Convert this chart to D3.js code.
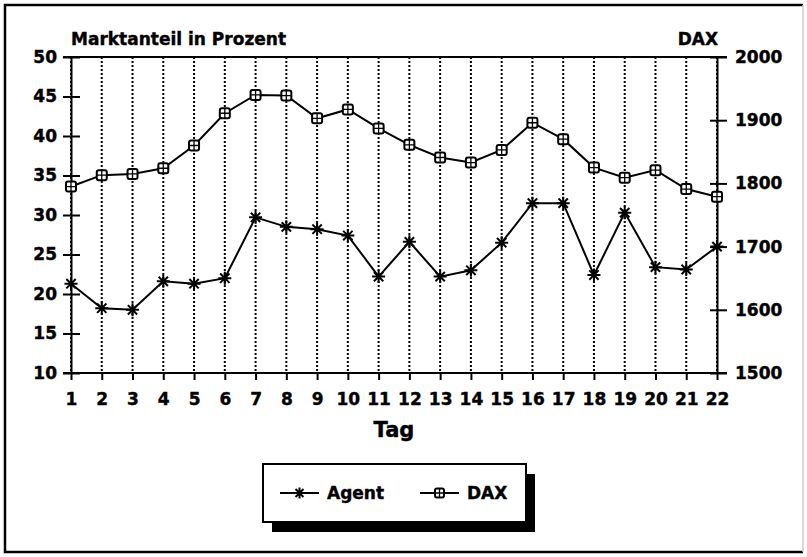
<!DOCTYPE html>
<html>
<head>
<meta charset="utf-8">
<script src="https://cdn.jsdelivr.net/npm/d3@7"></script>
<style>
  body { margin: 0; background: #fff; }
  svg { display: block; }
  text { font-family: "DejaVu Sans", Verdana, sans-serif; font-weight: bold; fill: #000; stroke: #000; stroke-width: 0.4px; }
</style>
</head>
<body>
<svg width="807" height="557"></svg>
<script>
(function () {
    'use strict';

    // Daten
    const days = d3.range(1, 23);
    const agent = [21.3, 18.2, 18.0, 21.6, 21.3, 22.0, 29.7, 28.5, 28.2, 27.4, 22.2,
                   26.6, 22.2, 23.0, 26.5, 31.5, 31.5, 22.4, 30.3, 23.4, 23.1, 26.0];
    const dax = [1795, 1813, 1815, 1824, 1860, 1911, 1940, 1939, 1903, 1917, 1887,
                 1861, 1841, 1833, 1853, 1896, 1870, 1825, 1809, 1821, 1791, 1779];
    const leftTicks = [10, 15, 20, 25, 30, 35, 40, 45, 50];
    const rightTicks = [1500, 1600, 1700, 1800, 1900, 2000];

    const svg = d3.select('svg');
    const margin = {top: 57, right: 90, bottom: 184, left: 71};
    const width = 807 - margin.left - margin.right;
    const height = 557 - margin.top - margin.bottom;

    // Rahmen (rechte Kante im Scan nur schwach)
    svg.append('path')
        .attr('d', 'M803,5H5V552H803')
        .attr('fill', 'none')
        .attr('stroke', '#000')
        .attr('stroke-width', 2.5);
    svg.append('line')
        .attr('x1', 803).attr('x2', 803)
        .attr('y1', 5).attr('y2', 552)
        .attr('stroke', '#ccc')
        .attr('stroke-width', 1.5);

    const g = svg.append('g')
        .attr('transform', `translate(${margin.left},${margin.top})`);

    const x = d3.scaleLinear().domain([1, 22]).range([0, width]);
    const yL = d3.scaleLinear().domain([10, 50]).range([height, 0]);
    const yR = d3.scaleLinear().domain([1500, 2000]).range([height, 0]);

    // gepunktete Gitterlinien
    g.append('g').selectAll('line')
        .data(days)
        .enter().append('line')
        .attr('x1', d => x(d)).attr('x2', d => x(d))
        .attr('y1', 0).attr('y2', height)
        .attr('stroke', '#000')
        .attr('stroke-width', 2)
        .attr('stroke-dasharray', '2,2');

    // Achsen
    const fontSize = 17;

    g.append('g')
        .call(d3.axisLeft(yL).tickValues(leftTicks).tickSize(8).tickPadding(6).tickSizeOuter(0))
        .call(a => a.select('.domain').attr('stroke-width', 2))
        .call(a => a.selectAll('.tick line').attr('x1', 9).attr('stroke-width', 2))
        .call(a => a.selectAll('text').attr('font-size', fontSize).attr('font-family', null));

    g.append('g')
        .attr('transform', `translate(${width},0)`)
        .call(d3.axisRight(yR).tickValues(rightTicks).tickFormat(d3.format('d'))
            .tickSize(10).tickPadding(8).tickSizeOuter(0))
        .call(a => a.select('.domain').attr('stroke-width', 2))
        .call(a => a.selectAll('.tick line').attr('x1', -7).attr('stroke-width', 2))
        .call(a => a.selectAll('text').attr('font-size', fontSize).attr('font-family', null));

    g.append('g')
        .attr('transform', `translate(0,${height})`)
        .call(d3.axisBottom(x).tickValues(days).tickFormat(d3.format('d')).tickSize(7).tickPadding(13).tickSizeOuter(0))
        .call(a => a.select('.domain').remove())
        .call(a => a.selectAll('.tick line').attr('stroke-width', 2))
        .call(a => a.selectAll('text').attr('font-size', fontSize).attr('font-family', null));

    // obere und untere Begrenzung
    [0, height].forEach(yy => {
        g.append('line')
            .attr('x1', -8).attr('x2', width + 10)
            .attr('y1', yy).attr('y2', yy)
            .attr('stroke', '#000')
            .attr('stroke-width', 2);
    });

    // Beschriftungen
    svg.append('text')
        .attr('x', margin.left).attr('y', 45)
        .attr('font-size', fontSize)
        .text('Marktanteil in Prozent');

    svg.append('text')
        .attr('x', margin.left + width + 1).attr('y', 45)
        .attr('text-anchor', 'end')
        .attr('font-size', fontSize)
        .text('DAX');

    svg.append('text')
        .attr('x', margin.left + width / 2).attr('y', 437)
        .attr('text-anchor', 'middle')
        .attr('font-size', 21)
        .text('Tag');

    // Marker
    const star = (sel, s) => {
        const r = s / 2, q = r * 0.72;
        sel.append('path')
            .attr('d', `M${-r},0H${r}M0,${-r}V${r}M${-q},${-q}L${q},${q}M${-q},${q}L${q},${-q}`)
            .attr('stroke', '#000')
            .attr('stroke-width', 2)
            .attr('fill', 'none');
    };
    const box = (sel, s) => {
        const r = s / 2;
        sel.append('rect')
            .attr('x', -r).attr('y', -r)
            .attr('width', s).attr('height', s)
            .attr('rx', 2)
            .attr('fill', '#fff')
            .attr('stroke', '#000')
            .attr('stroke-width', 2);
        sel.append('path')
            .attr('d', `M${-r},0H${r}M0,${-r}V${r}`)
            .attr('stroke', '#000')
            .attr('stroke-width', 1.3);
    };

    const lineL = d3.line().x((d, i) => x(days[i])).y(d => yL(d));
    const lineR = d3.line().x((d, i) => x(days[i])).y(d => yR(d));

    g.append('path')
        .datum(dax)
        .attr('d', lineR)
        .attr('fill', 'none')
        .attr('stroke', '#000')
        .attr('stroke-width', 2);

    g.append('path')
        .datum(agent)
        .attr('d', lineL)
        .attr('fill', 'none')
        .attr('stroke', '#000')
        .attr('stroke-width', 2);

    g.selectAll('.dax-pt').data(dax)
        .enter().append('g')
        .attr('class', 'dax-pt')
        .attr('transform', (d, i) => `translate(${x(days[i])},${yR(d)})`)
        .each(function () { box(d3.select(this), 10); });

    g.selectAll('.agent-pt').data(agent)
        .enter().append('g')
        .attr('class', 'agent-pt')
        .attr('transform', (d, i) => `translate(${x(days[i])},${yL(d)})`)
        .each(function () { star(d3.select(this), 13); });

    // Legende
    const legend = svg.append('g').attr('transform', 'translate(263,464)');
    legend.append('rect')
        .attr('x', 9).attr('y', 10)
        .attr('width', 263).attr('height', 58)
        .attr('fill', '#000');
    legend.append('rect')
        .attr('width', 263).attr('height', 58)
        .attr('fill', '#fff')
        .attr('stroke', '#000')
        .attr('stroke-width', 2);

    const items = [
        {name: 'Agent', x: 17, marker: star, size: 11},
        {name: 'DAX', x: 157, marker: box, size: 9}
    ];
    items.forEach(it => {
        const e = legend.append('g').attr('transform', `translate(${it.x},29)`);
        e.append('line')
            .attr('x1', 0).attr('x2', 39)
            .attr('stroke', '#000').attr('stroke-width', 2);
        it.marker(e.append('g').attr('transform', 'translate(19.5,0)'), it.size);
        e.append('text')
            .attr('x', 47).attr('dy', '0.36em')
            .attr('font-size', fontSize)
            .text(it.name);
    });
}());
</script>
</body>
</html>
